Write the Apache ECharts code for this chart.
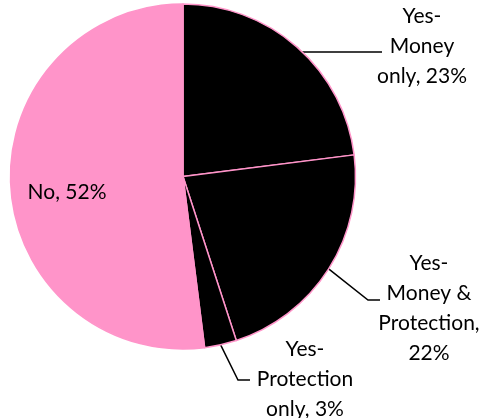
<!DOCTYPE html>
<html>
<head>
<meta charset="utf-8">
<script src="https://cdn.jsdelivr.net/npm/echarts@6/dist/echarts.min.js"></script>
<style>
html,body{margin:0;padding:0;background:#fff;}
#chart{width:486px;height:418px;}
</style>
</head>
<body>
<div id="chart"></div>
<script>
// ---- data ----
var categories = ['Yes-\nMoney\nonly', 'Yes-\nMoney &\nProtection', 'Yes-\nProtection\nonly', 'No'];
var values = [23, 22, 3, 52];
var separators = [', ', ',\n', ', ', ', '];

// ---- styling / label placement ----
var sliceColors = ['#000000', '#000000', '#000000', '#FF94C9'];
var labelSpots = [
  {x: 422, y: 46, line: [[300, 52], [382, 52]]},
  {x: 429, y: 308, line: [[368, 300], [380, 300]]},
  {x: 305, y: 379, line: [[238, 380], [250, 380]]},
  {x: 67, y: 192, line: null}
];

var chart = echarts.init(document.getElementById('chart'), null, {renderer: 'canvas'});
var seriesData = categories.map(function (c, i) {
  return {
    name: c,
    value: values[i],
    itemStyle: {color: sliceColors[i]},
    label: {position: i === 3 ? 'inside' : 'outside'},
    labelLine: {show: i !== 3}
  };
});

chart.setOption({
  animation: false,
  series: [{
    type: 'pie',
    center: [183, 176.5],
    radius: 172.5,
    startAngle: 90,
    clockwise: true,
    avoidLabelOverlap: false,
    data: seriesData,
    itemStyle: {borderColor: '#FF94C9', borderWidth: 1.5},
    label: {
      color: '#000',
      fontFamily: 'Lato',
      fontSize: 21,
      lineHeight: 30,
      formatter: function (p) {
        return p.name + separators[p.dataIndex] + p.value + '%';
      }
    },
    labelLine: {
      lineStyle: {color: '#000', width: 1.5},
      length: 10,
      length2: 10
    },
    labelLayout: function (params) {
      var s = labelSpots[params.dataIndex];
      var out = {x: s.x, y: s.y, align: 'center', verticalAlign: 'middle'};
      if (s.line && params.labelLinePoints) {
        out.labelLinePoints = [params.labelLinePoints[0]].concat(s.line);
      }
      return out;
    }
  }]
});
</script>
</body>
</html>
